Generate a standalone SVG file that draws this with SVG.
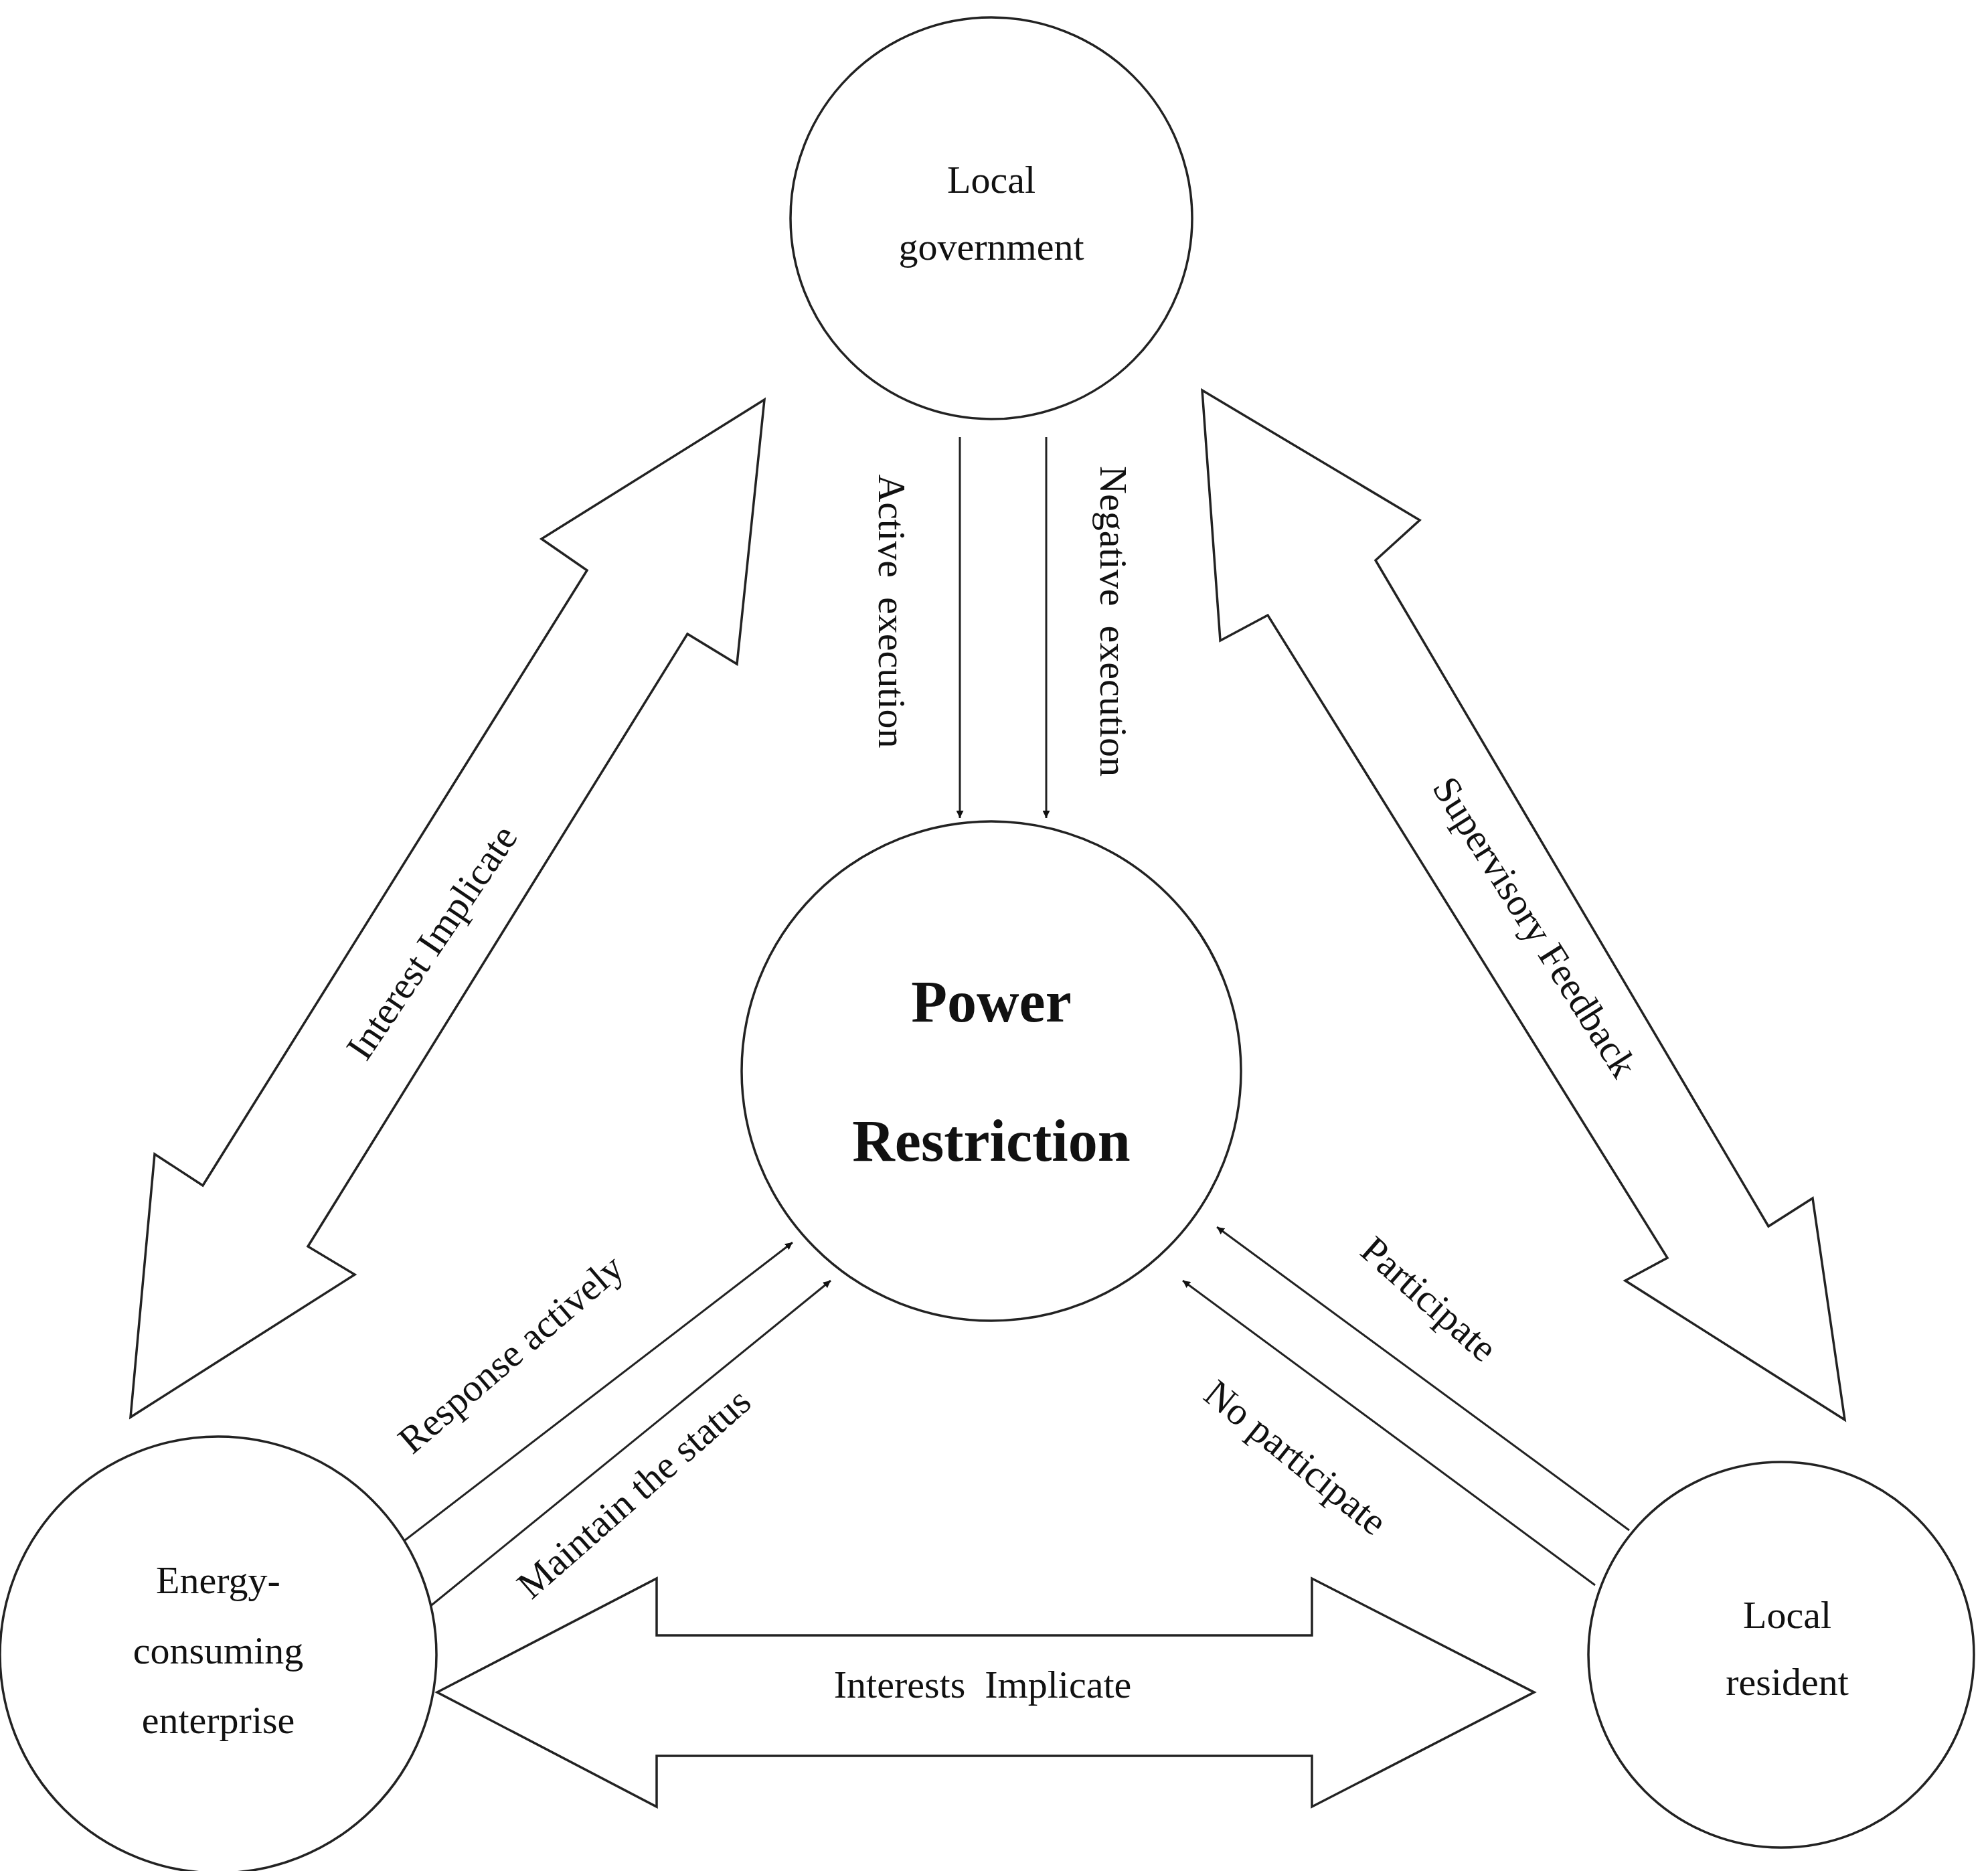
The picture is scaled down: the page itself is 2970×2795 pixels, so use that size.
<svg xmlns="http://www.w3.org/2000/svg" width="2970" height="2795" viewBox="0 0 2970 2795">
<style>
.n{fill:#fff;stroke:#222;stroke-width:3.5}
.t{font-family:"Liberation Serif",serif;font-size:58px;fill:#111;text-anchor:middle;dominant-baseline:middle}
.b{font-weight:bold;font-size:88px}
.big{fill:#fff;stroke:#222;stroke-width:3.5;stroke-linejoin:miter}
.c{stroke:#222;stroke-width:3;fill:none;marker-end:url(#ah)}
</style>
<defs><marker id="ah" viewBox="0 0 10 10" refX="10" refY="5" markerWidth="11" markerHeight="11" orient="auto" markerUnits="userSpaceOnUse"><path d="M0,0 L10,5 L0,10 z" fill="#111"/></marker></defs>
<rect width="2970" height="2795" fill="#fff"/>
<g id="connectors">
<polygon class="big" points="1142,597 809,805 877,852 303,1771 231,1724 195,2117 530,1904 460,1862 1027,947 1101,992"/>
<polygon class="big" points="1796,583 2121,777 2055,837 2642,1832 2708,1790 2756,2121 2428,1913 2491,1879 1894,919 1823,957"/>
<polygon class="big" points="653,2528 981,2358 981,2443 1960,2443 1960,2358 2292,2528 1960,2699 1960,2623 981,2623 981,2699"/>
<line class="c" x1="1434" y1="653" x2="1434" y2="1222"/>
<line class="c" x1="1563" y1="653" x2="1563" y2="1222"/>
<line class="c" x1="597" y1="2307" x2="1184" y2="1856"/>
<line class="c" x1="631" y1="2409" x2="1241" y2="1913"/>
<line class="c" x1="2434" y1="2286" x2="1818" y2="1833"/>
<line class="c" x1="2383" y1="2368" x2="1767" y2="1913"/>
<text class="t" transform="translate(650,1411) rotate(-56)">Interest Implicate</text>
<text class="t" transform="translate(2288,1388) rotate(57.7)">Supervisory Feedback</text>
<text class="t" transform="translate(1326,913) rotate(90)" xml:space="preserve">Active  execution</text>
<text class="t" transform="translate(1657,928) rotate(90)" xml:space="preserve">Negative  execution</text>
<text class="t" transform="translate(767,2027) rotate(-40.6)">Response actively</text>
<text class="t" transform="translate(951,2235) rotate(-41.3)">Maintain the status</text>
<text class="t" transform="translate(2131,1945) rotate(41.5)">Participate</text>
<text class="t" transform="translate(1932,2182) rotate(38.9)">No participate</text>
<text class="t" x="1468" y="2523" xml:space="preserve">Interests  Implicate</text>
</g>
<g id="gov"><circle class="n" cx="1481" cy="326" r="300"/><text class="t" x="1481" y="275">Local</text><text class="t" x="1481" y="375">government</text></g>
<g id="power"><circle class="n" cx="1481" cy="1600" r="373"/><text class="t b" x="1481" y="1506">Power</text><text class="t b" x="1481" y="1714">Restriction</text></g>
<g id="enterprise"><circle class="n" cx="326" cy="2472" r="326"/><text class="t" x="326" y="2367">Energy-</text><text class="t" x="326" y="2472">consuming</text><text class="t" x="326" y="2576">enterprise</text></g>
<g id="resident"><circle class="n" cx="2661" cy="2472" r="288"/><text class="t" x="2670" y="2419">Local</text><text class="t" x="2670" y="2519">resident</text></g>
</svg>
